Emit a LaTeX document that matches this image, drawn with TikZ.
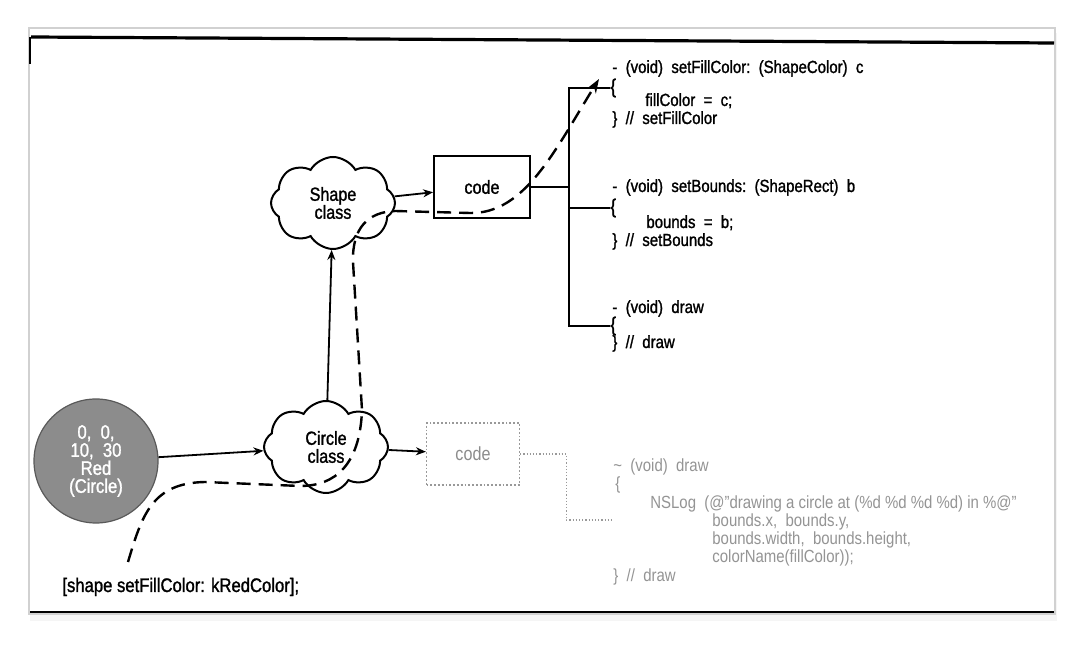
\documentclass[tikz,border=0pt]{standalone}
\usepackage{fontspec}
\setmainfont{Liberation Sans}[FakeStretch=0.85]
\newfontfamily\inkfont{Liberation Sans}[FakeStretch=0.85, FakeBold=1.3]
\usetikzlibrary{arrows.meta,shapes.symbols}

\tikzset{
  cloudnode/.style={cloud, draw, line width=1pt, cloud puffs=8, cloud puff arc=120,
    cloud ignores aspect, minimum width=62pt, minimum height=46pt, align=center,
    inner sep=0pt, font=\inkfont\fontsize{9.5}{9}\selectfont},
  codebox/.style={draw, line width=0.9pt, minimum width=48pt, minimum height=31pt,
    font=\inkfont\fontsize{9.5}{10}\selectfont},
  codeline/.style={anchor=base west, inner sep=0pt, font=\inkfont\fontsize{8.8}{9}\selectfont},
  bracenode/.style={anchor=west, inner sep=0pt, font=\inkfont\fontsize{10}{10}\selectfont},
  grayline/.style={anchor=base west, inner sep=0pt, text=black!42,
    font=\fontsize{8.8}{9}\selectfont},
  link/.style={-{Stealth[length=5pt,width=4pt]}, line width=0.9pt},
  msgpath/.style={line width=1.2pt, dash pattern=on 7pt off 4pt,
    -{Stealth[length=7pt,width=5pt]}},
}

\begin{document}
\begin{tikzpicture}[x=0.5pt,y=-0.5pt]
\useasboundingbox (0,0) rectangle (1084,646);

% frame
\fill[black!4] (30,33) rectangle (1057,621);
\draw[fill=white, draw=black!18, line width=0.8pt] (29,28) rectangle (1055,614);
\draw[line width=1.6pt] (31,37) -- (1054,43);
\draw[line width=0.6pt] (30,37) -- (30,64);
\draw[line width=1.2pt] (30,612) -- (1054,612);

% classes and objects
\node[cloudnode] (shape) at (333,203) {Shape\\class};
\node[cloudnode] (circ) at (326,447) {Circle\\class};
\node[codebox] (code) at (482,187) {code};
\node[codebox, draw=black!40, densely dotted, line width=0.6pt, text=black!45,
  font=\fontsize{9.5}{10}\selectfont, minimum width=46.5pt] (gcode) at (473,454) {code};
\node[circle, fill=black!45, draw=black!65, line width=0.6pt, minimum size=62pt,
  text=white, align=center, inner sep=0pt, font=\inkfont\fontsize{9.8}{9}\selectfont]
  (obj) at (96,461) {0,\ \ 0,\\10,\ \ 30\\Red\\(Circle)};

\draw[link] (obj) -- (circ);
\draw[link] (circ) -- (gcode);
\draw[link] (circ) -- (shape);
\draw[link] (shape) -- (code);

% Shape methods
\node[codeline] (fillhead) at (612,73) {-\ \ (void)\ \ setFillColor:\ \ (ShapeColor)\ \ c};
\node[bracenode] (brA) at (610,88) {\{};
\node[codeline] at (645,106) {fillColor\ \ =\ \ c;};
\node[codeline] at (612,124) {\}\ \ //\ \ setFillColor};

\node[codeline] (boundshead) at (612,192) {-\ \ (void)\ \ setBounds:\ \ (ShapeRect)\ \ b};
\node[bracenode] (brB) at (610,208) {\{};
\node[codeline] at (646,228) {bounds\ \ =\ \ b;};
\node[codeline] at (612,246) {\}\ \ //\ \ setBounds};

\node[codeline] (drawhead) at (612,313) {-\ \ (void)\ \ draw};
\node[bracenode] (brC) at (610,326) {\{};
\node[codeline] at (612,348) {\}\ \ //\ \ draw};

\coordinate (bus) at (569,91);
\draw[line width=0.9pt] (brA.west) -| (bus) |- (brC.west);
\draw[line width=0.9pt] (brB.west) -- (brB.west -| bus);
\draw[line width=0.9pt] (code.east) -- (code.east -| bus);

% Circle methods
\node[grayline] (gdrawhead) at (613,472) {\textasciitilde\ \ (void)\ \ draw};
\node[grayline] at (615,490) {\{};
\node[grayline] at (650,509) {NSLog\ \ (@"drawing a circle at (\%d \%d \%d \%d) in \%@"};
\node[grayline] at (712,527) {bounds.x,\ \ bounds.y,};
\node[grayline] at (712,545) {bounds.width,\ \ bounds.height,};
\node[grayline] at (712,563) {colorName(fillColor));};
\node[grayline] at (613,582) {\}\ \ //\ \ draw};

\coordinate (gend) at (612,520);
\draw[black!40, densely dotted, line width=0.6pt] (gcode.east) -- ++(46,0) |- (gend);

% message
\node[anchor=base west, inner sep=0pt, font=\inkfont\fontsize{9.8}{10}\selectfont]
  (msg) at (62,592) {[shape setFillColor: kRedColor];};
\coordinate (msgstart) at (128,562);
\coordinate (msgend) at (599,79);
\draw[msgpath] (msgstart) .. controls (142,515) and (152,483) .. (205,482)
  -- (300,486) .. controls (335,486) and (360,465) .. (362,410)
  -- (353,262) .. controls (352,228) and (368,212) .. (395,211)
  -- (470,213) .. controls (525,214) and (555,150) .. (msgend);

\end{tikzpicture}
\end{document}
